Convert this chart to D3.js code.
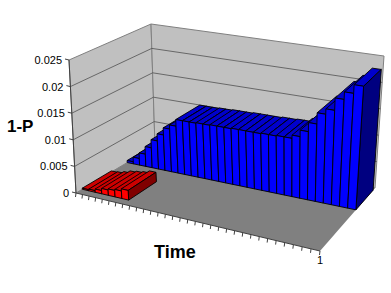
<!DOCTYPE html>
<html>
<head>
<meta charset="utf-8">
<script src="https://cdn.jsdelivr.net/npm/d3@7"></script>
<style>
html, body { margin: 0; padding: 0; background: #fff; }
text { font-family: "Liberation Sans", Arial, sans-serif; fill: #000; }
</style>
</head>
<body>
<script>
// Values
var yTicks = [0, 0.005, 0.01, 0.015, 0.02, 0.025];
var yTickLabels = ["0", "0.005", "0.01", "0.015", "0.02", "0.025"];
var blueValues = [0.0004, 0.0013, 0.0024, 0.0039, 0.0055, 0.0069, 0.0083, 0.0091, 0.0104, 0.0104, 0.0104,
    0.0105, 0.0105, 0.0106, 0.0106, 0.0106, 0.0107, 0.0107, 0.0107, 0.0107, 0.0108,
    0.0108, 0.0109, 0.0109, 0.0115, 0.0127, 0.0144, 0.0165, 0.0175, 0.0198, 0.0212, 0.0228];
var redValues = [0.0002, 0.0003, 0.0006, 0.001, 0.0012, 0.0014, 0.0018];
var timeLabels = blueValues.map(function(d, i) { return i === blueValues.length - 1 ? "1" : ""; });
var seriesNames = ["red", "blue"];

var width = 391, height = 293;

// Corners of the 3D box on screen: floor and top, front-left, front-right, back-right, back-left
var floorQuad = [[76, 193], [320, 251], [375, 188], [155, 146]];
var topQuad = [[69, 60], [326, 110], [384, 56], [151, 24]];

// Unit square to quad, perspective map
function quadMap(q) {
    var dx1 = q[1][0] - q[2][0], dx2 = q[3][0] - q[2][0], sx = q[0][0] - q[1][0] + q[2][0] - q[3][0];
    var dy1 = q[1][1] - q[2][1], dy2 = q[3][1] - q[2][1], sy = q[0][1] - q[1][1] + q[2][1] - q[3][1];
    var det = dx1 * dy2 - dx2 * dy1;
    var g = (sx * dy2 - dx2 * sy) / det, h = (dx1 * sy - sx * dy1) / det;
    var a = q[1][0] - q[0][0] + g * q[1][0], b = q[3][0] - q[0][0] + h * q[3][0];
    var d = q[1][1] - q[0][1] + g * q[1][1], e = q[3][1] - q[0][1] + h * q[3][1];
    return function(u, v) {
        var w = g * u + h * v + 1;
        return [(a * u + b * v + q[0][0]) / w, (d * u + e * v + q[0][1]) / w];
    };
}
var floorMap = quadMap(floorQuad), topMap = quadMap(topQuad);

// Scales
var xScale = d3.scaleBand().domain(d3.range(blueValues.length)).range([0, 1]);
var zScale = d3.scaleBand().domain(seriesNames).range([0.07, 0.96]).paddingInner(0.37);
var yScale = d3.scaleLinear().domain([0, 0.025]).range([0, 1]);

function project(u, v, val) {
    var a = floorMap(u, v), b = topMap(u, v), k = yScale(val);
    return [a[0] + (b[0] - a[0]) * k, a[1] + (b[1] - a[1]) * k];
}

var line = d3.line();
function polygon(pts) { return line(pts) + "Z"; }

var svg = d3.select("body").append("svg")
    .attr("width", width)
    .attr("height", height)
    .style("display", "block");

// Walls and floor
var wallColor = "#c0c0c0", floorColor = "#808080", edgeColor = "#808080", gridColor = "#505050";
svg.append("path").attr("d", polygon([project(0, 0, 0), project(0, 1, 0), project(0, 1, 0.025), project(0, 0, 0.025)]))
    .attr("fill", wallColor).attr("stroke", edgeColor);
svg.append("path").attr("d", polygon([project(0, 1, 0), project(1, 1, 0), project(1, 1, 0.025), project(0, 1, 0.025)]))
    .attr("fill", wallColor).attr("stroke", edgeColor);
svg.append("path").attr("d", polygon([project(0, 0, 0), project(1, 0, 0), project(1, 1, 0), project(0, 1, 0)]))
    .attr("fill", floorColor).attr("stroke", "none");

// Gridlines
yTicks.slice(1, -1).forEach(function(t) {
    svg.append("path").attr("fill", "none").attr("stroke", gridColor).attr("stroke-width", 0.8)
        .attr("d", line([project(0, 0, t), project(0, 1, t), project(1, 1, t)]));
});

// Bars, back series first, left to right
function drawSeries(values, name, colors) {
    var g = svg.append("g").attr("class", "series-" + name)
        .attr("stroke", "#000").attr("stroke-width", 0.9).attr("stroke-linejoin", "round");
    var z0 = zScale(name), z1 = zScale(name) + zScale.bandwidth();
    values.forEach(function(val, i) {
        var x0 = xScale(i), x1 = xScale(i) + xScale.bandwidth();
        g.append("path").attr("fill", colors.top)
            .attr("d", polygon([project(x0, z0, val), project(x1, z0, val), project(x1, z1, val), project(x0, z1, val)]));
        g.append("path").attr("fill", colors.side)
            .attr("d", polygon([project(x1, z0, 0), project(x1, z1, 0), project(x1, z1, val), project(x1, z0, val)]));
        g.append("path").attr("fill", colors.front)
            .attr("d", polygon([project(x0, z0, 0), project(x1, z0, 0), project(x1, z0, val), project(x0, z0, val)]));
    });
}
drawSeries(blueValues, "blue", {front: "#0000ff", top: "#0000cc", side: "#000080"});
drawSeries(redValues, "red", {front: "#ff0000", top: "#cc0000", side: "#800000"});

// Axis lines and ticks
var axisColor = "#404040";
var axis = svg.append("g").attr("stroke", axisColor).attr("fill", "none");
axis.append("path").attr("d", line([project(0, 0, 0), project(0, 0, 0.025)]));
axis.append("path").attr("d", line([project(0, 0, 0), project(1, 0, 0)]));
yTicks.forEach(function(t) {
    var p = project(0, 0, t);
    axis.append("path").attr("d", line([p, [p[0] - 4, p[1] - 1]]));
});
xScale.domain().concat(blueValues.length).forEach(function(i) {
    var p = project(i / blueValues.length, 0, 0);
    axis.append("path").attr("d", line([p, [p[0] - 0.5, p[1] + 4]]));
});

// Tick labels
svg.selectAll(".ylabel").data(yTicks).enter().append("text")
    .attr("class", "ylabel")
    .attr("x", function(d) { return project(0, 0, d)[0] - 7; })
    .attr("y", function(d) { return project(0, 0, d)[1] + 4; })
    .style("text-anchor", "end")
    .style("font-size", "11px")
    .text(function(d, i) { return yTickLabels[i]; });

timeLabels.forEach(function(label, i) {
    if (!label) return;
    var p = project(xScale(i) + xScale.bandwidth(), 0, 0);
    svg.append("text").attr("x", p[0]).attr("y", p[1] + 13)
        .style("text-anchor", "middle").style("font-size", "11px").text(label);
});

// Axis titles
svg.append("text").attr("x", 7).attr("y", 132)
    .style("font-size", "17px").style("font-weight", "bold").text("1-P");
svg.append("text").attr("x", 154).attr("y", 258)
    .style("font-size", "18px").style("font-weight", "bold").text("Time");
</script>
</body>
</html>
